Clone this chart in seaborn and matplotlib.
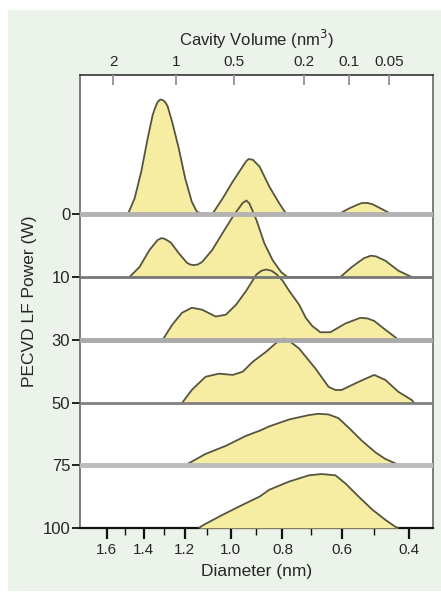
import numpy as np
import pandas as pd
import matplotlib
matplotlib.use("Agg")
import matplotlib.pyplot as plt
from matplotlib.patches import Rectangle
import seaborn as sns

# ridge labels (PECVD LF power, W), top to bottom
powers = ["0", "10", "30", "50", "75", "100"]

# diameter (nm) / height (in units of ridge spacing)
d_0 = [1.483, 1.447, 1.412, 1.379, 1.354, 1.340, 1.329, 1.316, 1.304, 1.292, 1.280, 1.258, 1.227, 1.197,
       1.167, 1.144, 1.114,
       1.077, 1.033, 0.991, 0.951, 0.938, 0.928, 0.911, 0.885, 0.848, 0.811, 0.787, 0.776,
       0.610, 0.578, 0.552, 0.537, 0.520, 0.505, 0.476, 0.448]
h_0 = [0.00, 0.25, 0.68, 1.21, 1.58, 1.71, 1.79, 1.83, 1.82, 1.79, 1.72, 1.47, 1.05, 0.57,
       0.20, 0.04, 0.00,
       0.00, 0.25, 0.52, 0.76, 0.84, 0.88, 0.87, 0.76, 0.44, 0.17, 0.01, 0.00,
       0.00, 0.09, 0.15, 0.18, 0.18, 0.16, 0.08, 0.00]

d_10 = [1.474, 1.421, 1.370, 1.329, 1.310, 1.295, 1.265, 1.227, 1.190, 1.175, 1.159, 1.140, 1.121,
        1.077, 1.033, 0.991, 0.951, 0.936, 0.924, 0.897, 0.867, 0.836, 0.805, 0.782,
        0.604, 0.568, 0.531, 0.510, 0.495, 0.467, 0.429, 0.391]
h_10 = [0.00, 0.16, 0.43, 0.59, 0.62, 0.61, 0.55, 0.38, 0.23, 0.20, 0.19, 0.20, 0.24,
        0.43, 0.70, 0.96, 1.18, 1.22, 1.17, 0.91, 0.54, 0.27, 0.08, 0.00,
        0.00, 0.16, 0.30, 0.34, 0.33, 0.26, 0.10, 0.00]

d_30 = [1.304, 1.258, 1.212, 1.167, 1.121, 1.062, 1.019, 0.977, 0.937, 0.897, 0.878, 0.860, 0.840,
        0.823, 0.799, 0.776, 0.741, 0.718, 0.696, 0.669, 0.636, 0.588, 0.542, 0.520, 0.500, 0.467,
        0.438, 0.429]
h_30 = [0.00, 0.24, 0.43, 0.51, 0.48, 0.37, 0.40, 0.56, 0.78, 1.04, 1.10, 1.12, 1.10,
        1.05, 0.94, 0.78, 0.56, 0.35, 0.22, 0.12, 0.12, 0.26, 0.35, 0.34, 0.30, 0.16,
        0.04, 0.00]

d_50 = [1.210, 1.167, 1.106, 1.048, 0.991, 0.951, 0.911, 0.860, 0.823, 0.805, 0.793, 0.775, 0.741,
        0.685, 0.642, 0.620, 0.600, 0.547, 0.500, 0.467, 0.429, 0.391, 0.385]
h_50 = [0.00, 0.20, 0.41, 0.46, 0.44, 0.49, 0.65, 0.81, 0.95, 1.00, 1.02, 0.98, 0.86,
        0.54, 0.25, 0.20, 0.20, 0.33, 0.44, 0.36, 0.17, 0.04, 0.00]

d_75 = [1.197, 1.106, 1.019, 0.937, 0.885, 0.848, 0.776, 0.707, 0.675, 0.642, 0.610, 0.578, 0.537,
        0.495, 0.467, 0.438, 0.429]
h_75 = [0.00, 0.18, 0.31, 0.47, 0.55, 0.62, 0.73, 0.80, 0.82, 0.81, 0.75, 0.60, 0.39,
        0.20, 0.10, 0.03, 0.00]

d_100 = [1.136, 1.114, 1.033, 0.951, 0.885, 0.848, 0.776, 0.707, 0.665, 0.620, 0.588, 0.547, 0.505,
         0.467, 0.438, 0.429]
h_100 = [0.00, 0.05, 0.21, 0.37, 0.50, 0.61, 0.74, 0.84, 0.86, 0.84, 0.71, 0.50, 0.29,
         0.13, 0.02, 0.00]

diam_ticks = [1.6, 1.4, 1.2, 1.0, 0.8, 0.6, 0.4]
diam_minor = [1.5, 1.3, 1.1, 0.9, 0.7, 0.5]
vol_ticks = [2, 1, 0.5, 0.2, 0.1, 0.05]

rows = [(d_0, h_0), (d_10, h_10), (d_30, h_30), (d_50, h_50), (d_75, h_75), (d_100, h_100)]
frames = []
for i, (d, h) in enumerate(rows):
    frames.append(pd.DataFrame({"diam": d, "y": np.array(h) - i, "power": powers[i]}))
df = pd.concat(frames, ignore_index=True)


# Tao-Eldrup lifetime, axis is linear in ln(tau)
def ln_tau(d):
    r = np.asarray(d, dtype=float) / 2
    x = r / (r + 0.1656)
    return np.log(0.5 / (1 - x + np.sin(2 * np.pi * x) / (2 * np.pi)))


grid = np.linspace(0.2, 3.0, 4000)
grid_lt = ln_tau(grid)


def inv_ln_tau(v):
    return np.interp(v, grid_lt, grid)


def v2d(v):
    # cavity volume (nm^3) -> sphere diameter (nm)
    return (6 * np.asarray(v, dtype=float) / np.pi) ** (1 / 3)


sns.set_theme(style="white")
plt.rcParams["font.family"] = ["Liberation Sans", "DejaVu Sans"]

fig = plt.figure(figsize=(4.41, 5.93), dpi=100)
fig.patch.set_facecolor("white")
fig.patches.append(Rectangle((8 / 441, 2 / 593), 1, 1 - 12 / 593, transform=fig.transFigure,
                             facecolor="#ecf3ea", edgecolor="none", zorder=-10))
ax = fig.add_axes([80 / 441, 1 - 528 / 593, 353 / 441, 453 / 593])
ax.set_facecolor("white")
ax.set_xscale("function", functions=(ln_tau, inv_ln_tau))

fill_c = "#f6eda3"
line_c = "#55553f"
for i, p in enumerate(powers):
    sub = df[df["power"] == p]
    ax.fill_between(sub["diam"], -i, sub["y"], color=fill_c, lw=0, zorder=2 + 2 * i)
    sns.lineplot(data=sub, x="diam", y="y", ax=ax, color=line_c, lw=1.3, sort=False,
                 estimator=None, zorder=3 + 2 * i)

base_style = [("#b3b3b3", 3.5), ("#777777", 2.0), ("#aaaaaa", 3.5), ("#808080", 2.0), ("#bdbdbd", 3.5)]
for i, (c, lw) in enumerate(base_style):
    ax.axhline(-i, color=c, lw=lw, zorder=20)

xlim = (1.757, 0.331)
ax.set_xlim(*xlim)
ax.set_ylim(-5, 2.22)
ax.set_yticks(-np.arange(len(powers)))
ax.set_yticklabels(powers)
ax.set_xticks(diam_ticks)
ax.set_xticklabels([f"{t:.1f}" for t in diam_ticks])
ax.set_xticks(diam_minor, minor=True)
ax.tick_params(axis="x", which="major", direction="out", length=8, width=1.6, color="#111111",
               labelsize=11, pad=3, bottom=True)
ax.tick_params(axis="x", which="minor", direction="out", length=5, width=1.0, color="#111111", bottom=True)
ax.tick_params(axis="y", direction="out", length=6, width=1.3, color="#111111", labelsize=12, pad=1, left=True)
ax.set_xlabel("Diameter (nm)", fontsize=12.5, labelpad=5)
ax.set_ylabel("PECVD LF Power (W)", fontsize=12.5, labelpad=4)

for s in ["left", "right", "top"]:
    ax.spines[s].set_color("#666666")
    ax.spines[s].set_linewidth(1.2)
ax.spines["bottom"].set_color("#111111")
ax.spines["bottom"].set_linewidth(1.6)

top = ax.twiny()
top.set_xscale("function", functions=(ln_tau, inv_ln_tau))
top.set_xlim(*xlim)
top.set_xticks(v2d(vol_ticks))
top.set_xticklabels([f"{v:g}" for v in vol_ticks])
top.xaxis.set_minor_locator(matplotlib.ticker.NullLocator())
top.tick_params(axis="x", direction="in", length=7, width=1.4, color="#9a9a9a", labelsize=11, pad=4, top=True)
top.set_xlabel("Cavity Volume (nm$^3$)", fontsize=12, labelpad=7)
for s in top.spines.values():
    s.set_visible(False)
ax.spines["top"].set_color("#333333")

fig.savefig("out.png", dpi=100)
